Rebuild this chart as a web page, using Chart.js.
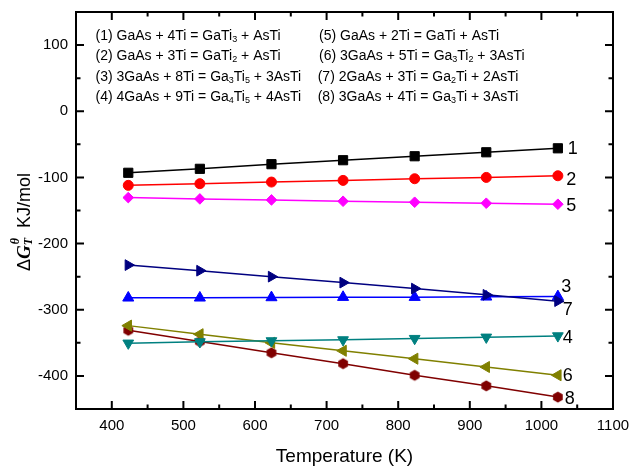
<!DOCTYPE html>
<html>
<head>
<meta charset="utf-8">
<title>Gibbs free energy of GaAs-Ti reactions</title>
<script src="https://cdn.jsdelivr.net/npm/chart.js@4.4.0/dist/chart.umd.min.js"></script>
<style>
  html, body { margin: 0; padding: 0; background: #fff; }
  canvas { display: block; }
</style>
</head>
<body>
<canvas id="chart" width="629" height="467"></canvas>
<script>
// Temperature (K) and ΔG (kJ/mol) for each reaction
var temperatures = [423, 523, 623, 723, 823, 923, 1023];

var dG1 = [-93, -87, -80, -74, -68, -62, -56];
var dG2 = [-112, -109.5, -107, -104.5, -102, -100, -97.5];
var dG3 = [-232.5, -241, -250, -259, -268, -277.5, -287];
var dG4 = [-350.5, -348.5, -347, -345.5, -343.5, -341.5, -339.5];
var dG5 = [-130.5, -132.5, -134, -136, -137.5, -139, -140.5];
var dG6 = [-324, -337, -350, -362, -374, -386.5, -399];
var dG7 = [-282, -282, -281.5, -281, -281, -280.5, -280];
var dG8 = [-331, -348, -365, -381.5, -399, -415, -432];

var curveNames = ['1', '2', '3', '4', '5', '6', '7', '8'];

var xTicks = [400, 500, 600, 700, 800, 900, 1000, 1100];
var yTicks = [-400, -300, -200, -100, 0, 100];

// "_" marks a subscript digit
var reactions = [
    '(1) GaAs + 4Ti = GaTi_3 + AsTi',
    '(2) GaAs + 3Ti = GaTi_2 + AsTi',
    '(3) 3GaAs + 8Ti = Ga_3Ti_5 + 3AsTi',
    '(4) 4GaAs + 9Ti = Ga_4Ti_5 + 4AsTi',
    '(5) GaAs + 2Ti = GaTi + AsTi',
    '(6) 3GaAs + 5Ti = Ga_3Ti_2 + 3AsTi',
    '(7) 2GaAs + 3Ti = Ga_2Ti + 2AsTi',
    '(8) 3GaAs + 4Ti = Ga_3Ti + 3AsTi'
];

var SANS = '"Liberation Sans", Arial, sans-serif';
var SERIF = '"Liberation Serif", "Times New Roman", serif';

function hexagonMarker(r, color) {
    var size = Math.ceil(r * 2) + 2;
    var c = document.createElement('canvas');
    c.width = size;
    c.height = size;
    var g = c.getContext('2d');
    g.fillStyle = color;
    g.beginPath();
    for (var i = 0; i < 6; i++) {
        var a = Math.PI / 3 * i - Math.PI / 2;
        var px = size / 2 + r * Math.cos(a);
        var py = size / 2 + r * Math.sin(a);
        if (i === 0) g.moveTo(px, py); else g.lineTo(px, py);
    }
    g.closePath();
    g.fill();
    return c;
}

function series(values, color, style, radius, rotation) {
    var pts = [];
    for (var i = 0; i < temperatures.length; i++) {
        pts.push({ x: temperatures[i], y: values[i] });
    }
    return {
        data: pts,
        borderColor: color,
        backgroundColor: color,
        borderWidth: 1.5,
        pointStyle: style,
        pointRadius: radius,
        pointHoverRadius: radius,
        pointRotation: rotation || 0,
        pointBorderWidth: 1,
        pointBorderColor: color,
        pointBackgroundColor: color,
        tension: 0
    };
}

var datasets = [
    series(dG1, '#000000', 'rect', 6.5),
    series(dG2, '#ff0000', 'circle', 5),
    series(dG3, '#000080', 'triangle', 6.2, 90),
    series(dG4, '#008080', 'triangle', 6.2, 180),
    series(dG5, '#ff00ff', 'rectRot', 5.3),
    series(dG6, '#808000', 'triangle', 6.4, 270),
    series(dG7, '#0000ff', 'triangle', 6.4),
    series(dG8, '#800000', hexagonMarker(5.6, '#800000'), 5.6)
];

// curve number placement next to the last point: [dx, dy] in px
var curveLabelOffset = [[10, 0], [8.5, 3], [3.5, -15], [5, 1], [8.5, 0.5], [5, 0], [5, 13], [7, 1]];

function drawFormula(ctx, text, x, y) {
    var parts = text.split('_');
    ctx.textAlign = 'left';
    ctx.textBaseline = 'alphabetic';
    for (var i = 0; i < parts.length; i++) {
        var chunk = parts[i];
        if (i > 0) {
            ctx.font = '9px ' + SANS;
            ctx.fillText(chunk.charAt(0), x, y + 2);
            x += ctx.measureText(chunk.charAt(0)).width;
            chunk = chunk.substring(1);
        }
        ctx.font = '14px ' + SANS;
        ctx.fillText(chunk, x, y);
        x += ctx.measureText(chunk).width;
    }
}

var decorPlugin = {
    id: 'decor',
    afterDraw: function (chart) {
        var ctx = chart.ctx;
        var a = chart.chartArea;
        var xs = chart.scales.x;
        var ys = chart.scales.y;
        var v, p;

        ctx.save();
        ctx.strokeStyle = '#000';
        ctx.lineWidth = 2;

        // ticks point into the plot on all four sides
        ctx.beginPath();
        for (v = 350; v <= 1100; v += 50) {
            p = xs.getPixelForValue(v);
            var lx = (v % 100 === 0) ? 8 : 4.5;
            ctx.moveTo(p, a.bottom); ctx.lineTo(p, a.bottom - lx);
            ctx.moveTo(p, a.top); ctx.lineTo(p, a.top + lx);
        }
        for (v = -450; v <= 150; v += 50) {
            p = ys.getPixelForValue(v);
            var ly = (v % 100 === 0) ? 8 : 4.5;
            ctx.moveTo(a.left, p); ctx.lineTo(a.left + ly, p);
            ctx.moveTo(a.right, p); ctx.lineTo(a.right - ly, p);
        }
        ctx.stroke();
        ctx.strokeRect(a.left, a.top, a.right - a.left, a.bottom - a.top);

        ctx.fillStyle = '#000';

        // reaction list
        var rowY = [39.5, 60, 80.5, 101];
        var colX = [95.5, 319];
        for (var i = 0; i < reactions.length; i++) {
            var col = i < 4 ? 0 : 1;
            var cx = colX[col] - (col === 1 && i >= 6 ? 1.3 : 0);
            drawFormula(ctx, reactions[i], cx, rowY[i % 4]);
        }

        // curve numbers
        ctx.font = '18px ' + SANS;
        ctx.textAlign = 'left';
        ctx.textBaseline = 'middle';
        chart.data.datasets.forEach(function (ds, k) {
            var last = ds.data[ds.data.length - 1];
            var off = curveLabelOffset[k];
            ctx.fillText(curveNames[k], xs.getPixelForValue(last.x) + off[0],
                ys.getPixelForValue(last.y) + off[1] + 1);
        });

        // x axis title
        ctx.font = '19px ' + SANS;
        ctx.textAlign = 'center';
        ctx.textBaseline = 'alphabetic';
        ctx.fillText('Temperature (K)', (a.left + a.right) / 2, 461.5);

        // y axis title: ΔG with T subscript and θ superscript, then units
        ctx.translate(29.5, 271);
        ctx.rotate(-Math.PI / 2);
        ctx.textAlign = 'left';
        var x = 0;
        ctx.font = '18px ' + SANS;
        ctx.fillText('\u0394', x, 0);
        x += ctx.measureText('\u0394').width;
        ctx.font = 'italic bold 19px ' + SERIF;
        ctx.fillText('G', x, 0);
        x += ctx.measureText('G').width;
        ctx.font = 'italic bold 12px ' + SERIF;
        ctx.fillText('\u03b8', x + 1, -11);
        ctx.fillText('T', x, 2);
        x += Math.max(ctx.measureText('T').width, ctx.measureText('\u03b8').width + 1);
        ctx.font = '18px ' + SANS;
        ctx.fillText('KJ/mol', x + 10, 0);
        ctx.restore();
    }
};

function plainTick(value) {
    return String(value);
}

var chart = new Chart(document.getElementById('chart').getContext('2d'), {
    type: 'line',
    data: { datasets: datasets },
    options: {
        responsive: false,
        animation: false,
        devicePixelRatio: 1,
        layout: { padding: { top: 12, right: 16, left: 0, bottom: 0 } },
        plugins: {
            legend: { display: false },
            tooltip: { enabled: false }
        },
        scales: {
            x: {
                type: 'linear',
                min: 350,
                max: 1100,
                grid: { display: false, drawTicks: false },
                border: { display: false },
                afterBuildTicks: function (scale) {
                    scale.ticks = xTicks.map(function (t) { return { value: t }; });
                },
                afterFit: function (scale) {
                    scale.height = 58;
                    scale.paddingLeft = 0;
                    scale.paddingRight = 0;
                },
                ticks: {
                    padding: 8,
                    maxRotation: 0,
                    autoSkip: false,
                    color: '#000',
                    font: { family: SANS, size: 15 },
                    callback: plainTick
                }
            },
            y: {
                type: 'linear',
                min: -450,
                max: 150,
                grid: { display: false, drawTicks: false },
                border: { display: false },
                afterBuildTicks: function (scale) {
                    scale.ticks = yTicks.map(function (t) { return { value: t }; });
                },
                afterFit: function (scale) {
                    scale.width = 76;
                    scale.paddingTop = 0;
                    scale.paddingBottom = 0;
                },
                ticks: {
                    padding: 8,
                    color: '#000',
                    font: { family: SANS, size: 15 },
                    callback: plainTick
                }
            }
        }
    },
    plugins: [decorPlugin]
});
</script>
</body>
</html>
